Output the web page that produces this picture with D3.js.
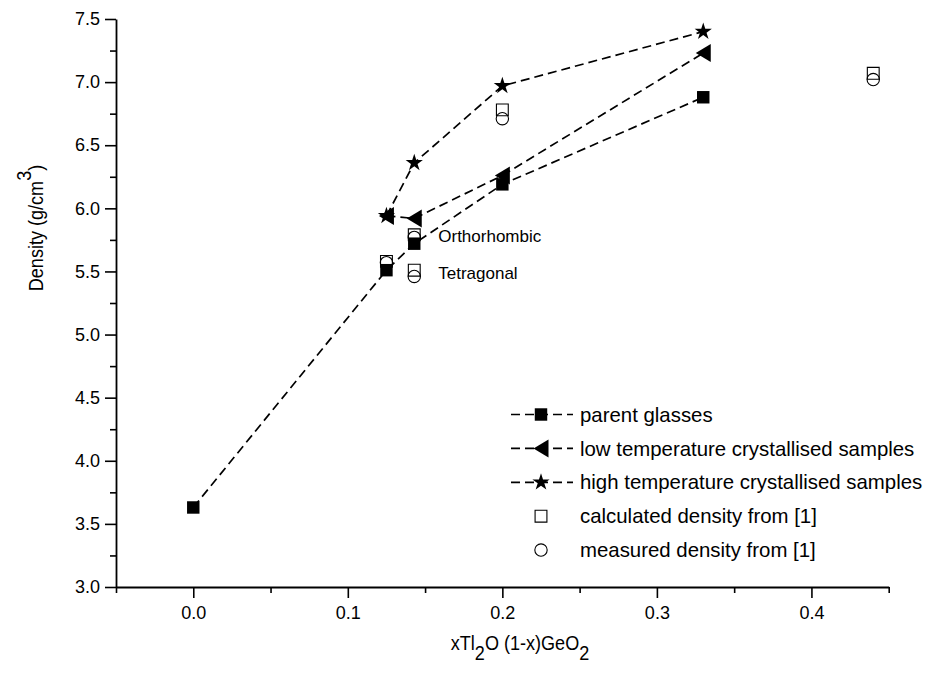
<!DOCTYPE html>
<html>
<head>
<meta charset="utf-8">
<script src="https://cdn.jsdelivr.net/npm/d3@7"></script>
<style>
  body { margin: 0; background: #fff; }
  text { font-family: "Liberation Sans", Arial, sans-serif; fill: #000; }
</style>
</head>
<body>
<div id="chart"></div>
<script>
// composition x of xTl2O (1-x)GeO2 and density values (g/cm3)
const parentX = [0, 0.125, 0.143, 0.2, 0.33];
const parentY = [3.63, 5.51, 5.72, 6.19, 6.88];
const lowX = [0.125, 0.143, 0.2, 0.33];
const lowY = [5.94, 5.92, 6.26, 7.23];
const highX = [0.125, 0.143, 0.2, 0.33];
const highY = [5.94, 6.36, 6.97, 7.40];
const calcX = [0.125, 0.143, 0.143, 0.2, 0.44];
const calcY = [5.58, 5.79, 5.51, 6.78, 7.07];
const measX = [0.125, 0.143, 0.143, 0.2, 0.44];
const measY = [5.57, 5.77, 5.46, 6.71, 7.02];
const phaseLabels = ['Orthorhombic', 'Tetragonal'];
const phaseX = [0.143, 0.143];
const phaseY = [5.78, 5.49];
const xTicks = [0, 0.1, 0.2, 0.3, 0.4];
const yTicks = [3.0, 3.5, 4.0, 4.5, 5.0, 5.5, 6.0, 6.5, 7.0, 7.5];
const legendLabels = ['parent glasses', 'low temperature crystallised samples', 'high temperature crystallised samples',
    'calculated density from [1]', 'measured density from [1]'];

const width = 928, height = 679;
const zip = (xs, ys) => xs.map((x, i) => ({x: x, y: ys[i]}));

const svg = d3.select('#chart').append('svg')
    .attr('width', width).attr('height', height);
svg.append('rect').attr('width', width).attr('height', height).attr('fill', '#fff');

const x = d3.scaleLinear().domain([-0.05, 0.45]).range([116, 888.7]);
const y = d3.scaleLinear().domain([3, 7.5]).range([587, 19]);

// axes: majors with labels, minors without
const xMinor = d3.range(-0.05, 0.46, 0.1);
const yMinor = d3.range(3.25, 7.3, 0.5);

const xAxisG = svg.append('g').attr('transform', `translate(0,${y(3)})`);
xAxisG.call(d3.axisBottom(x).tickValues(xTicks).tickFormat(d3.format('.1f')).tickSize(11).tickSizeOuter(0).tickPadding(8));
xAxisG.append('g').call(d3.axisBottom(x).tickValues(xMinor).tickFormat('').tickSize(6).tickSizeOuter(0))
    .call(g => g.select('.domain').remove());

const yAxisG = svg.append('g').attr('transform', `translate(${x(-0.05)},0)`);
yAxisG.call(d3.axisLeft(y).tickValues(yTicks).tickFormat(d3.format('.1f')).tickSize(11).tickSizeOuter(0).tickPadding(5));
yAxisG.append('g').call(d3.axisLeft(y).tickValues(yMinor).tickFormat('').tickSize(6).tickSizeOuter(0))
    .call(g => g.select('.domain').remove());

svg.selectAll('.domain').attr('stroke-width', 1.8);
svg.selectAll('.tick line').attr('stroke-width', 1.6);
svg.selectAll('.tick text').style('font-size', '18px').style('font-family', '"Liberation Sans", Arial, sans-serif');

// axis titles (slightly condensed, like the narrow face of the original)
const yTitle = svg.append('text')
    .attr('transform', 'translate(43,228) rotate(-90) scale(0.86,1)')
    .attr('text-anchor', 'middle')
    .style('font-size', '21px');
yTitle.append('tspan').text('Density (g/cm');
yTitle.append('tspan').attr('dy', -12).text('3');
yTitle.append('tspan').attr('dy', 12).text(')');

const xTitle = svg.append('text')
    .attr('transform', 'translate(520,650) scale(0.86,1)')
    .attr('text-anchor', 'middle')
    .style('font-size', '21px');
xTitle.append('tspan').text('xTl');
xTitle.append('tspan').attr('dy', 10).text('2');
xTitle.append('tspan').attr('dy', -10).text('O (1-x)GeO');
xTitle.append('tspan').attr('dy', 10).text('2');

// marker shapes
const sym = {
    square: d3.symbol().type(d3.symbolSquare).size(155)(),
    star: d3.symbol().type(d3.symbolStar).size(92)(),
    openSquare: d3.symbol().type(d3.symbolSquare).size(140)(),
    circle: d3.symbol().type(d3.symbolCircle).size(120)(),
    leftTri: 'M-7.5,0L7.5,-9L7.5,9Z'
};

const line = d3.line().x(d => x(d.x)).y(d => y(d.y));
const dash = '9,5';

const series = [
    {data: zip(parentX, parentY), marker: sym.square},
    {data: zip(lowX, lowY), marker: sym.leftTri},
    {data: zip(highX, highY), marker: sym.star}
];

series.forEach(s => {
    svg.append('path').datum(s.data)
        .attr('d', line)
        .attr('fill', 'none')
        .attr('stroke', '#000')
        .attr('stroke-width', 1.7)
        .attr('stroke-dasharray', dash);
});

// open markers from reference [1]
svg.selectAll('.calc').data(zip(calcX, calcY)).join('path')
    .attr('class', 'calc')
    .attr('d', sym.openSquare)
    .attr('transform', d => `translate(${x(d.x)},${y(d.y)})`)
    .attr('fill', 'none').attr('stroke', '#000').attr('stroke-width', 1.1);
svg.selectAll('.meas').data(zip(measX, measY)).join('path')
    .attr('class', 'meas')
    .attr('d', sym.circle)
    .attr('transform', d => `translate(${x(d.x)},${y(d.y)})`)
    .attr('fill', 'none').attr('stroke', '#000').attr('stroke-width', 1.1);

series.forEach((s, i) => {
    svg.selectAll('.mk' + i).data(s.data).join('path')
        .attr('class', 'mk' + i)
        .attr('d', s.marker)
        .attr('transform', d => `translate(${x(d.x)},${y(d.y)})`)
        .attr('fill', '#000');
});

// phase annotations
svg.selectAll('.phase').data(phaseLabels).join('text')
    .attr('class', 'phase')
    .attr('x', (d, i) => x(phaseX[i]) + 24)
    .attr('y', (d, i) => y(phaseY[i]))
    .attr('dy', '0.35em')
    .style('font-size', '17px')
    .text(d => d);

// legend
const legend = svg.append('g').attr('transform', 'translate(511,414.5)');
const rowH = 33.9;
const legendMarkers = [sym.square, sym.leftTri, sym.star, sym.openSquare, sym.circle];
legendLabels.forEach((lab, i) => {
    const row = legend.append('g').attr('transform', `translate(0,${i * rowH})`);
    if (i < 3) {
        row.append('line').attr('x1', 0).attr('x2', 62).attr('y1', 0).attr('y2', 0)
            .attr('stroke', '#000').attr('stroke-width', 1.7).attr('stroke-dasharray', dash);
        row.append('path').attr('d', legendMarkers[i]).attr('transform', 'translate(30,0)').attr('fill', '#000');
    } else {
        row.append('path').attr('d', legendMarkers[i]).attr('transform', 'translate(30,0)')
            .attr('fill', 'none').attr('stroke', '#000').attr('stroke-width', 1.1);
    }
    row.append('text').attr('x', 69).attr('dy', '0.35em').style('font-size', '20.4px').text(lab);
});
</script>
</body>
</html>
